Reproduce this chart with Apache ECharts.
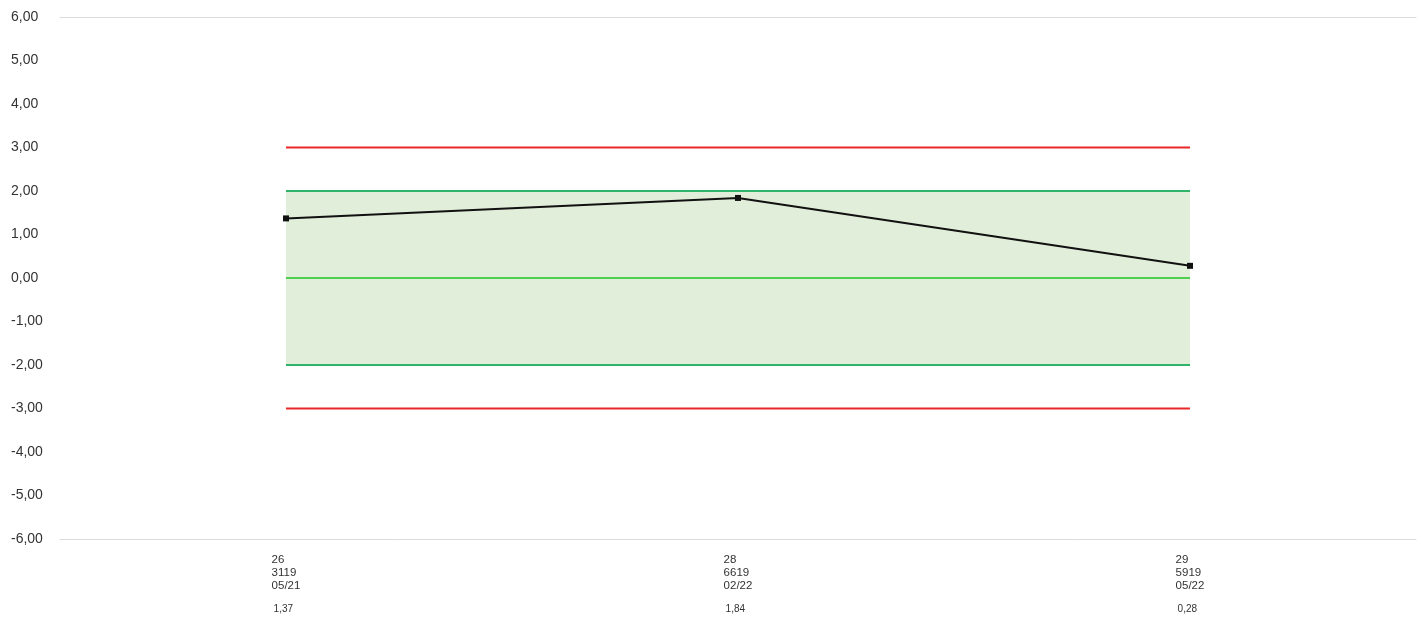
<!DOCTYPE html>
<html>
<head>
<meta charset="utf-8">
<script src="https://cdn.jsdelivr.net/npm/echarts@6/dist/echarts.min.js"></script>
<style>
html,body{margin:0;padding:0;background:#fff;}
#chart{width:1423px;height:619px;}
</style>
</head>
<body>
<div id="chart"></div>
<script>
var runIds = ['26', '28', '29'];
var runCodes = ['3119', '6619', '5919'];
var runDates = ['05/21', '02/22', '05/22'];
var values = [1.37, 1.84, 0.28];
var upperControl = [3, 3, 3];
var upperWarning = [2, 2, 2];
var centerLine = [0, 0, 0];
var lowerWarning = [-2, -2, -2];
var lowerControl = [-3, -3, -3];
var yTicks = [-6, -5, -4, -3, -2, -1, 0, 1, 2, 3, 4, 5, 6];

var categories = runIds.map(function (id, i) { return id + '|' + i; });
function fmt(v) { return v.toFixed(2).replace('.', ','); }
var bandWidth = upperWarning.map(function (u, i) { return u - lowerWarning[i]; });

var chart = echarts.init(document.getElementById('chart'), null, { renderer: 'canvas' });
var font = '"Liberation Sans", Arial, sans-serif';
chart.setOption({
  animation: false,
  grid: { left: 60, right: 7, top: 17, bottom: 80, containLabel: false },
  xAxis: [{
    type: 'category',
    data: categories,
    boundaryGap: true,
    axisLine: { show: true, onZero: false, lineStyle: { color: '#dcdcdc', width: 1 } },
    axisTick: { show: false },
    splitLine: { show: false },
    axisLabel: {
      interval: 0,
      margin: 14,
      align: 'center',
      fontFamily: font,
      formatter: function (val, idx) {
        return '{a|' + runIds[idx] + '}\n{a|' + runCodes[idx] + '}\n{a|' + runDates[idx] + '}\n{b|' + fmt(values[idx]) + '}';
      },
      rich: {
        a: { fontSize: 11.5, lineHeight: 13, color: '#333', align: 'left', fontFamily: font },
        b: { fontSize: 10, lineHeight: 35, color: '#333', align: 'left', fontFamily: font, padding: [0, 0, 0, 2] }
      }
    }
  }, {
    type: 'category',
    data: categories,
    position: 'top',
    axisLine: { show: true, onZero: false, lineStyle: { color: '#dcdcdc', width: 1 } },
    axisTick: { show: false },
    axisLabel: { show: false },
    splitLine: { show: false }
  }],
  yAxis: {
    type: 'value',
    min: yTicks[0],
    max: yTicks[yTicks.length - 1],
    interval: 1,
    axisLine: { show: false },
    axisTick: { show: false },
    splitLine: { show: false },
    axisLabel: {
      align: 'left',
      margin: 49,
      fontSize: 14,
      color: '#333',
      fontFamily: font,
      formatter: function (v) { return fmt(v); }
    }
  },
  series: [
    { type: 'line', stack: 'band', stackStrategy: 'all', data: lowerWarning, symbol: 'none', lineStyle: { width: 0, opacity: 0 }, silent: true },
    { type: 'line', stack: 'band', stackStrategy: 'all', data: bandWidth, symbol: 'none', lineStyle: { width: 0, opacity: 0 }, areaStyle: { color: '#e1eed9', opacity: 1 }, silent: true },
    { type: 'line', data: upperControl, symbol: 'none', lineStyle: { color: '#e8282b', width: 2 } },
    { type: 'line', data: lowerControl, symbol: 'none', lineStyle: { color: '#e8282b', width: 2 } },
    { type: 'line', data: upperWarning, symbol: 'none', lineStyle: { color: '#2fb46a', width: 2 } },
    { type: 'line', data: lowerWarning, symbol: 'none', lineStyle: { color: '#2fb46a', width: 2 } },
    { type: 'line', data: centerLine, symbol: 'none', lineStyle: { color: '#4fcf4f', width: 2 } },
    { type: 'line', data: values, symbol: 'rect', symbolSize: 6, itemStyle: { color: '#111' }, lineStyle: { color: '#111', width: 2 }, z: 5 }
  ]
});
</script>
</body>
</html>
